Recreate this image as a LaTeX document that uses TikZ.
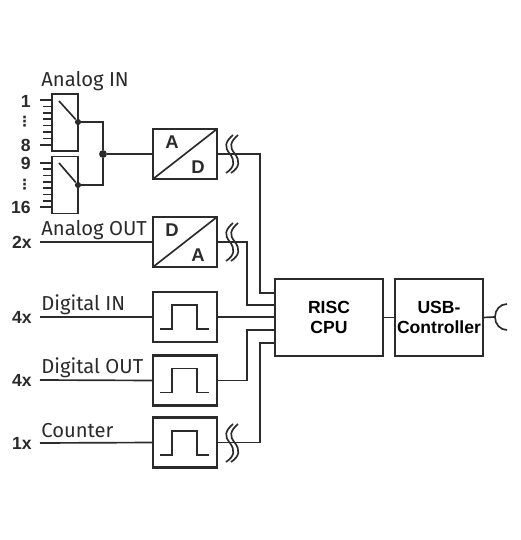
\documentclass[tikz,border=0pt]{standalone}
\usepackage{fontspec}
\setmainfont{Fira Sans}
\newfontfamily\boldface[Scale=1.0]{Liberation Sans Bold}
\newfontfamily\dotsface{DejaVu Sans Bold}
\usepackage{xcolor}
\usepackage{tikz}
\definecolor{inkline}{HTML}{2B2B2B}
\tikzset{
  wire/.style={line width=0.95pt, draw=inkline},
  block/.style={draw=inkline, line width=1.3pt, minimum width=1.28cm, minimum height=1.0cm, outer sep=0pt, inner sep=0pt},
  muxbox/.style={draw=inkline, line width=1.1pt, minimum width=0.52cm, minimum height=1.14cm, outer sep=0pt, inner sep=0pt},
  mainbox/.style={draw=inkline, line width=1.3pt, minimum height=1.54cm, outer sep=0pt, inner sep=0pt, align=center, font=\boldface\fontsize{10}{11.5}\selectfont},
  caption/.style={anchor=west, inner sep=0pt, text=inkline, font=\fontsize{11.5}{13}\selectfont},
  count/.style={anchor=east, inner sep=0pt, text=inkline, font=\boldface\fontsize{10}{12}\selectfont},
  letter/.style={inner sep=0pt, text=inkline, font=\boldface\fontsize{10.5}{12}\selectfont},
  joint/.style={circle, fill=inkline, inner sep=0pt, minimum size=#1},
  pulse/.pic={\draw[wire] (-25,12) -- (-13,12) -- (-13,-12) -- (12,-12) -- (12,12) -- (24,12);},
  breakmark/.pic={
    \draw[wire] (3,-19) .. controls (-5,-12) and (-6,-7) .. (0,0) .. controls (5,7) and (5,13) .. (-4,19);
    \draw[wire] (8,-19) .. controls (0,-12) and (-1,-7) .. (5,0) .. controls (10,7) and (10,13) .. (1,19);
  }
}
\begin{document}
\begin{tikzpicture}[x=0.02cm, y=-0.02cm]
  \useasboundingbox (0,0) rectangle (520,540);

  % multiplexers
  \node[muxbox] (muxa) at (65,122.5) {};
  \node[muxbox] (muxb) at (65,185) {};
  \foreach \y in {100,106.4,...,146} {\draw[wire] (43,\y) -- (52,\y);}
  \foreach \y in {163,169.3,...,208} {\draw[wire] (43,\y) -- (52,\y);}
  \draw[wire] (40,100) -- (43,100) (40,145) -- (43,145) (40,163) -- (43,163) (40,207) -- (43,207);
  \node[joint=3.5pt] (joina) at (78,122) {};
  \node[joint=3.5pt] (joinb) at (78,185) {};
  \coordinate (swa) at (59,101);
  \coordinate (swb) at (59,163);
  \draw[wire] (swa) -- (joina);
  \draw[wire] (swb) -- (joinb);
  \node[joint=4.5pt] (merge) at (103,154) {};
  \draw[wire] (joina) -| (merge) |- (joinb);

  % converters and pulse shapers
  \node[block] (ad) at (185,154) {};
  \node[block] (da) at (185,242) {};
  \node[block] (din) at (185,317) {};
  \node[block] (dout) at (185,380.5) {};
  \node[block] (cnt) at (185,442.5) {};
  \draw[wire] (ad.south west) -- (ad.north east);
  \draw[wire] (da.south west) -- (da.north east);
  \node[letter] (lada) at (172,142) {A};
  \node[letter] (lade) at (198,167) {D};
  \node[letter] (ldad) at (172,230) {D};
  \node[letter] (ldaa) at (198,255) {A};
  \pic at (185,317) {pulse};
  \pic at (185,380.5) {pulse};
  \pic at (185,443) {pulse};

  % main blocks
  \node[mainbox, minimum width=2.16cm] (cpu) at (329,317.5) {RISC\\CPU};
  \node[mainbox, minimum width=1.76cm] (usb) at (439,317.5) {USB-\\Controller};

  % free ends and bus corners
  \coordinate (ina) at (40,242);
  \coordinate (inb) at (40,317);
  \coordinate (inc) at (40,380);
  \coordinate (ind) at (40,443);
  \coordinate (pina) at (275,293);
  \coordinate (pinb) at (275,305);
  \coordinate (pinc) at (275,330);
  \coordinate (pind) at (275,343);
  \coordinate (busa) at (260,293);
  \coordinate (busb) at (247,305);
  \coordinate (busc) at (247,330);
  \coordinate (busd) at (260,343);
  \coordinate (socket) at (495,317);

  \draw[wire] (merge) -- (ad.west);
  \draw[wire] (ina) -- (da.west);
  \draw[wire] (inb) -- (din.west);
  \draw[wire] (inc) -- (dout.west);
  \draw[wire] (ind) -- (cnt.west);
  \draw[wire] (ad.east) -| (busa) -- (pina);
  \draw[wire] (da.east) -| (busb) -- (pinb);
  \draw[wire] (din.east) -- (din.east -| cpu.west);
  \draw[wire] (dout.east) -| (busc) -- (pinc);
  \draw[wire] (cnt.east) -| (busd) -- (pind);
  \draw[wire] (cpu.east |- usb.west) -- (usb.west);
  \draw[wire] (usb.east) -- (socket);
  \draw[wire] (507,304) .. controls (500,304) and (495,310) .. (socket) .. controls (495,324) and (500,330) .. (507,330);

  \pic at (230,154) {breakmark};
  \pic at (230,242) {breakmark};
  \pic at (230,443) {breakmark};

  % labels
  \node[caption] (tana) at (41,81) {Analog IN};
  \node[caption] (taou) at (41,230) {Analog OUT};
  \node[caption] (tdin) at (41,305) {Digital IN};
  \node[caption] (tdou) at (41,368) {Digital OUT};
  \node[caption] (tcnt) at (41,431) {Counter};
  \node[count] (none) at (31,101) {1};
  \node[count] (neig) at (31,145) {8};
  \node[count] (nnin) at (31,163) {9};
  \node[count] (nsix) at (31,207) {16};
  \node[count, font=\dotsface\fontsize{8}{8}\selectfont] (ddot) at (32,122) {⋮};
  \node[count, font=\dotsface\fontsize{8}{8}\selectfont] (dtwo) at (32,185) {⋮};
  \node[count] (ntwo) at (32,242) {2x};
  \node[count] (nfoa) at (32,317) {4x};
  \node[count] (nfob) at (32,380) {4x};
  \node[count] (nunit) at (32,443) {1x};
\end{tikzpicture}
\end{document}
